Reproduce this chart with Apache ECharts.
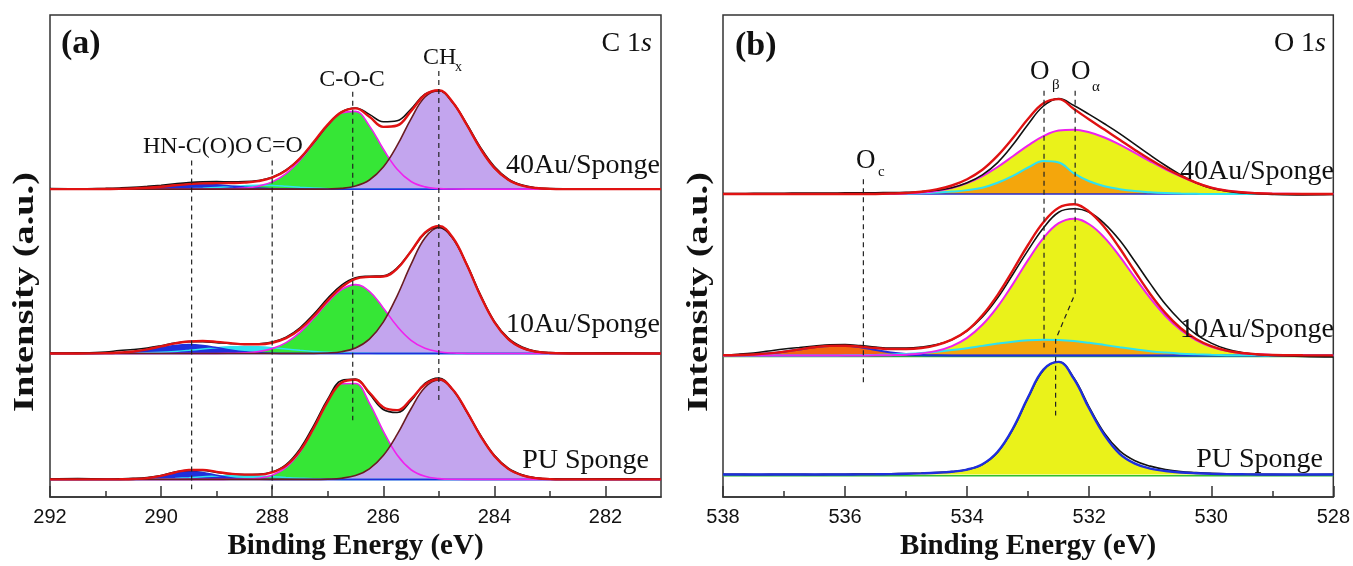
<!DOCTYPE html>
<html><head><meta charset="utf-8">
<script src="https://cdn.jsdelivr.net/npm/echarts@6/dist/echarts.min.js"></script>
<style>html,body{margin:0;padding:0;background:#fff}#c{width:1353px;height:566px}</style>
</head><body><div id="c"></div>
<script>
// ---------------- DATA: panel (a) C 1s ----------------
const energyC = [292, 291.5, 291, 290.75, 290.5, 290.25, 290, 289.75, 289.5, 289.25, 289, 288.75, 288.5, 288.25, 288, 287.75, 287.5, 287.25, 287, 286.75, 286.5, 286.25, 286, 285.75, 285.5, 285.25, 285, 284.75, 284.5, 284.25, 284, 283.75, 283.5, 283.25, 283, 282.5, 282, 281];
const ticksMajorC = [282, 284, 286, 288, 290, 292];
const ticksMinorC = [283, 285, 287, 289, 291];

// 40Au/Sponge
const c40_COC = [0,0,0,0,0,0,0,0,0,0, 0.1,0.3,1.0,3.0,7.4,15.8,29.4,47.0,64.9,77.3, 79.0,64.3,40.8,20.2,7.8,2.3,0.5,0.1,0,0, 0,0,0,0,0,0,0,0];
const c40_CHx = [0,0,0,0,0,0,0,0,0,0, 0,0,0,0,0,0,0,0,0.2,0.8, 3.1,9.3,22.5,44.5,71.5,93.6,100,88.2,65.7,41.1, 21.6,9.6,3.6,1.1,0.3,0,0,0];
const c40_HN  = [0,0,0.1,0.3,0.7,1.4,2.5,3.8,4.7,5.0, 4.4,3.3,2.1,1.1,0.5,0.2,0,0,0,0, 0,0,0,0,0,0,0,0,0,0, 0,0,0,0,0,0,0,0];
const c40_CO  = [0,0,0,0,0,0,0,0.1,0.4,0.9, 1.6,2.6,3.5,4.0,3.8,3.0,2.0,1.1,0.5,0.2, 0,0,0,0,0,0,0,0,0,0, 0,0,0,0,0,0,0,0];
const c40_fit = [0,0,0.2,0.3,0.7,1.4,2.5,3.9,5.1,5.9, 6.1,6.2,6.6,8.1,11.7,19.0,31.4,48.1,65.6,78.3, 82.1,73.6,63.3,64.7,79.3,95.9,100.5,88.3,65.7,41.1, 21.6,9.6,3.6,1.1,0.3,0,0,0];
const c40_raw = [0.5,0.3,0.8,1.2,1.8,2.8,4.0,5.4,6.6,7.4, 7.6,7.4,7.6,8.8,12.0,19.5,31.0,47.5,65.0,78.5, 82.5,76.0,68.5,69.5,81.5,96.5,100.0,88.0,66.5,42.5, 23.0,10.5,4.2,1.5,0.6,0.2,0.4,0];
// 10Au/Sponge
const c10_COC = [0,0,0,0,0,0,0,0,0,0, 0,0.2,0.6,1.9,4.9,11.0,21.4,36.0,52.1,65.0, 70.0,63.1,46.3,27.6,13.4,5.3,1.7,0.4,0.1,0, 0,0,0,0,0,0,0,0];
const c10_CHx = [0,0,0,0,0,0,0,0,0,0, 0,0,0,0,0,0,0,0,0.5,1.8, 5.6,14.6,31.9,58.6,90.5,117.4,128.0,117.4,90.5,58.6, 31.9,14.6,5.6,1.8,0.5,0,0,0];
const c10_HN  = [0,0,0.2,0.7,1.7,3.6,6.0,8.1,9.0,8.1, 6.0,3.6,1.7,0.7,0.2,0,0,0,0,0, 0,0,0,0,0,0,0,0,0,0, 0,0,0,0,0,0,0,0];
const c10_CO  = [0,0,0.1,0.2,0.3,0.6,1.2,2.1,3.2,4.5, 5.8,6.7,7.0,6.7,5.8,4.5,3.2,2.1,1.2,0.6, 0.3,0.1,0,0,0,0,0,0,0,0, 0,0,0,0,0,0,0,0];
const c10_fit = [0,0,0.3,0.9,2.0,4.2,7.2,10.2,12.2,12.6, 11.8,10.5,9.3,9.3,10.9,15.5,24.6,38.1,53.8,67.4, 75.9,77.8,78.2,86.2,103.9,122.7,129.7,117.8,90.6,58.6, 31.9,14.6,5.6,1.8,0.5,0,0,0];
const c10_raw = [0.3,0.6,1.5,3.0,4.0,5.5,7.8,10.5,12.0,12.0, 11.0,10.0,9.5,9.8,11.5,16.5,26.0,40.0,56.0,69.5, 77.0,78.5,79.0,87.0,104.0,122.0,128.5,117.0,91.0,59.5, 32.5,15.5,6.5,2.2,0.8,0.3,0.6,0];
// PU Sponge
const cPU_COC = [0,0,0,0,0,0,0,0,0,0, 0,0.1,0.3,1.2,4.3,12.1,27.8,51.9,78.8,97.2, 97.4,77.6,49.1,24.7,9.8,3.1,0.8,0.1,0,0, 0,0,0,0,0,0,0,0];
const cPU_CHx = [0,0,0,0,0,0,0,0,0,0, 0,0,0,0,0,0,0,0,0.3,1.2, 3.9,10.7,24.2,45.7,71.8,93.4,101.0,91.3,69.4,44.3, 23.8,10.7,4.1,1.3,0.3,0,0,0];
const cPU_HN  = [0,0,0,0,0.3,1.1,3.1,6.0,7.9,7.1, 4.2,1.7,0.5,0.1,0,0,0,0,0,0, 0,0,0,0,0,0,0,0,0,0, 0,0,0,0,0,0,0,0];
const cPU_CO  = [0,0,0,0,0,0.2,0.5,1.0,1.7,2.6, 3.4,3.9,4.0,3.5,2.8,1.9,1.2,0.6,0.3,0, 0,0,0,0,0,0,0,0,0,0, 0,0,0,0,0,0,0,0];
const cPU_fit = [0,0,0,0.1,0.4,1.3,3.6,7.0,9.6,9.7, 7.6,5.7,4.8,4.8,7.1,14.0,29.0,52.5,79.4,98.4, 101.3,88.3,73.3,70.4,81.6,96.5,101.8,91.4,69.4,44.3, 23.8,10.7,4.1,1.3,0.3,0,0,0];
const cPU_raw = [0.3,0.8,0.2,0.5,1.0,2.0,4.0,7.5,9.0,9.0, 7.0,5.5,5.0,5.2,7.5,15.0,31.0,55.0,81.5,100.5, 102.0,87.0,71.0,68.0,80.0,97.5,103.0,91.0,69.0,45.0, 24.5,11.5,4.8,1.6,0.5,0.3,0.6,0.2];

// reference (dashed) lines, panel (a): energy, top, bottom (intensity units)
const refEnergyC = [289.45, 288.0, 286.55, 285.0];
const refTopC = [342, 342, 412, 433];
const refBottomC = [8, 8, 78, 98];

// ---------------- DATA: panel (b) O 1s ----------------
const energyO = [538, 537.75, 537.5, 537.25, 537, 536.75, 536.5, 536.25, 536, 535.75, 535.5, 535.25, 535, 534.75, 534.5, 534.25, 534, 533.75, 533.5, 533.25, 533, 532.75, 532.5, 532.25, 532, 531.75, 531.5, 531.25, 531, 530.75, 530.5, 530.25, 530, 529.75, 529.5, 529.25, 529, 528.5, 528];
const ticksMajorO = [528, 530, 532, 534, 536, 538];
const ticksMinorO = [529, 531, 533, 535, 537];

const o40_Oa  = [0,0,0,0,0,0,0,0,0,0, 0.1,0.3,0.7,1.5,3.2,6.2,11.1,18.2,27.5,38.4, 49.5,58.9,64.5,65.4,62.8,57.5,50.2,41.9,33.3,25.2, 18.0,11.5,6.5,3.5,1.8,0.9,0.4,0.1,0];
const o40_Ob  = [0,0,0,0,0,0,0,0,0,0, 0,0.2,0.4,0.8,1.5,2.5,4.0,6.5,11.5,18.5, 27.0,33.5,32.0,21.0,13.0,8.0,5.0,3.0,1.8,1.0, 0.5,0.2,0,0,0,0,0,0,0];
const o40_fit = [0,0,0,0,0,0,0,0,0,0, 0.1,0.5,1.1,2.3,4.7,8.7,15.1,24.7,39.0,56.9, 76.5,92.4,96.5,86.4,75.8,65.5,55.2,44.9,35.1,26.2, 18.5,11.7,6.5,3.5,1.8,0.9,0.4,0.1,0];
const o40_raw = [0.5,0.6,0.7,0.8,0.9,1.0,1.0,1.1,1.2,1.3, 1.4,1.5,1.8,2.4,3.8,6.5,11.5,19.5,32.0,50.0, 71.0,89.5,97.0,90.0,81.0,71.5,61.5,50.5,39.5,29.0, 19.5,11.5,6.0,3.0,1.2,0.4,-0.3,-0.8,-0.5];

const o10_Oa  = [0,0,0,0,0,0,0,0,0,0, 0.1,0.3,0.8,2.0,4.6,9.5,17.9,31.1,49.6,72.5, 97.1,119.3,134.4,139.0,133.3,119.7,100.6,79.1,58.2,40.1, 25.8,15.6,8.8,4.6,2.3,1.1,0.5,0.1,0];
const o10_Ob  = [0,0,0,0,0,0,0,0,0.1,0.3, 0.5,0.8,1.5,2.4,3.7,5.4,7.4,9.7,12.0,14.0, 15.4,16.0,15.7,14.6,12.8,10.6,8.3,6.2,4.3,2.9, 1.8,1.1,0.6,0.3,0.2,0.1,0,0,0];
const o10_Oc  = [0.1,0.4,1.0,2.1,3.8,6.1,8.3,9.7,9.8,8.2, 5.5,3.0,1.4,0.5,0.1,0,0,0,0,0, 0,0,0,0,0,0,0,0,0,0, 0,0,0,0,0,0,0,0,0];
const o10_fit = [0.1,0.4,1.0,2.1,3.8,6.1,8.3,9.7,9.9,8.8, 7.5,6.5,6.5,7.5,10.5,16.0,25.3,40.8,61.6,86.5, 112.5,135.3,150.1,153.6,146.1,130.3,108.9,85.3,62.5,43.0, 27.6,16.7,9.4,4.9,2.5,1.2,0.5,0.1,0];
const o10_raw = [0.3,1.2,2.5,4.5,6.5,8.0,9.5,10.8,11.0,10.0, 8.5,7.5,7.5,8.5,11.0,16.0,25.0,39.0,58.5,82.5, 107.0,129.5,145.5,149.0,145.5,134.0,117.0,95.5,73.0,52.0, 35.0,21.5,12.5,6.5,3.0,1.0,0.0,-1.0,-1.5];

const oPU_Oa  = [0,0,0,0,0,0,0,0,0,0.1, 0.2,0.4,0.7,1.1,1.7,2.8,5.0,10.4,23.1,46.7, 78.7,106.7,114.4,97.1,67.0,40.0,21.0,11.0,6.0,3.5, 2.0,1.2,0.7,0.4,0.2,0,0,0,0];
const oPU_raw = [0.3,0.2,0.0,0.1,0.3,0.2,0.0,0.2,0.3,0.4, 0.5,0.7,1.0,1.4,2.0,3.0,5.0,10.0,22.5,46.0, 78.0,106.0,114.5,98.0,68.5,42.0,24.0,14.0,8.5,5.0, 3.0,2.0,1.2,0.7,0.4,0.2,0.1,0.0,0.2];

// reference (dashed) lines, panel (b)
const refOc = [[535.7, 323], [535.7, 113]];
const refObeta = [[532.74, 413], [532.74, 152]];
const refOalpha = [[532.23, 413], [532.23, 207], [532.55, 160], [532.55, 83]];

// ---------------- LAYOUT (vertical stacking offsets, in intensity units) ----------------
const OFF_C = {s40: 313, s10: 146, pu: 18};
const OFF_O = {s40: 308, s10: 144, pu: 23};

const SERIF = '"Liberation Serif","Times New Roman",serif';
const SANS = '"Liberation Sans",Arial,sans-serif';

const chart = echarts.init(document.getElementById('c'));
const series = [];
function pts(xs, base, vals) { return xs.map((e, i) => [e, base + vals[i]]); }
function area(ax, ay, xs, base, vals, color, z) {
  series.push({type: 'line', xAxisIndex: ax, yAxisIndex: ay, data: pts(xs, base, vals), smooth: 0.4,
    symbol: 'none', silent: true, z: z, lineStyle: {width: 0, opacity: 0},
    areaStyle: {color: color, opacity: 1, origin: base}});
}
function line(ax, ay, xs, base, vals, color, width, z) {
  series.push({type: 'line', xAxisIndex: ax, yAxisIndex: ay, data: pts(xs, base, vals), smooth: 0.4,
    symbol: 'none', silent: true, z: z, lineStyle: {color: color, width: width}});
}
function flat(ax, ay, x0, x1, y, color, width, z) {
  series.push({type: 'line', xAxisIndex: ax, yAxisIndex: ay, data: [[x0, y], [x1, y]], symbol: 'none',
    silent: true, z: z, lineStyle: {color: color, width: width}});
}
function dashed(ax, ay, data) {
  series.push({type: 'line', xAxisIndex: ax, yAxisIndex: ay, data: data, symbol: 'none', silent: true,
    z: 8, lineStyle: {color: '#222', width: 1.2, type: [5, 4]}});
}

const COL = {green: '#36e636', magenta: '#ee22ee', purple: '#c3a5ee', maroon: '#6a1c22', blue: '#1f2fdc',
  cyan: '#2fe2ef', red: '#e01212', black: '#111111', yellow: '#eaf21a', orange: '#f4a60c', orangeRed: '#f2650f',
  base: '#2a2ac8', green2: '#2fbf2f'};

// panel (a)
[[OFF_C.s40, c40_COC, c40_CHx, c40_HN, c40_CO, c40_fit, c40_raw],
 [OFF_C.s10, c10_COC, c10_CHx, c10_HN, c10_CO, c10_fit, c10_raw],
 [OFF_C.pu, cPU_COC, cPU_CHx, cPU_HN, cPU_CO, cPU_fit, cPU_raw]].forEach(s => {
  const [b, coc, chx, hn, co, fit, raw] = s;
  area(0, 0, energyC, b, co, COL.cyan, 2);
  area(0, 0, energyC, b, hn, COL.blue, 2);
  area(0, 0, energyC, b, coc, COL.green, 3);
  area(0, 0, energyC, b, chx, COL.purple, 3);
  flat(0, 0, 292, 281, b, COL.base, 1.5, 4);
  line(0, 0, energyC, b, co, COL.cyan, 1.5, 4);
  line(0, 0, energyC, b, hn, COL.blue, 1.5, 4);
  line(0, 0, energyC, b, coc, COL.magenta, 1.6, 5);
  line(0, 0, energyC, b, chx, COL.maroon, 1.6, 5);
  line(0, 0, energyC, b, raw, COL.black, 1.6, 6);
  line(0, 0, energyC, b, fit, COL.red, 2.4, 7);
});
refEnergyC.forEach((e, i) => dashed(0, 0, [[e, refTopC[i]], [e, refBottomC[i]]]));

// panel (b)
area(2, 1, energyO, OFF_O.s40, o40_Oa, COL.yellow, 2);
area(2, 1, energyO, OFF_O.s40, o40_Ob, COL.orange, 3);
flat(2, 1, 538, 528, OFF_O.s40, COL.base, 1.5, 4);
line(2, 1, energyO, OFF_O.s40, o40_Ob, COL.cyan, 2, 5);
line(2, 1, energyO, OFF_O.s40, o40_Oa, COL.magenta, 2, 5);
line(2, 1, energyO, OFF_O.s40, o40_raw, COL.black, 1.6, 6);
line(2, 1, energyO, OFF_O.s40, o40_fit, COL.red, 2.4, 7);

area(2, 1, energyO, OFF_O.s10, o10_Oa, COL.yellow, 2);
area(2, 1, energyO, OFF_O.s10, o10_Ob, COL.orange, 3);
area(2, 1, energyO, OFF_O.s10, o10_Oc, COL.orangeRed, 3);
flat(2, 1, 538, 528, OFF_O.s10 - 1, COL.green2, 1.5, 4);
flat(2, 1, 538, 528, OFF_O.s10, COL.base, 1.5, 4);
line(2, 1, energyO, OFF_O.s10, o10_Oc, COL.blue, 2, 5);
line(2, 1, energyO, OFF_O.s10, o10_Ob, COL.cyan, 2, 5);
line(2, 1, energyO, OFF_O.s10, o10_Oa, COL.magenta, 2, 5);
line(2, 1, energyO, OFF_O.s10, o10_raw, COL.black, 1.6, 6);
line(2, 1, energyO, OFF_O.s10, o10_fit, COL.red, 2.4, 7);

area(2, 1, energyO, OFF_O.pu, oPU_Oa, COL.yellow, 2);
flat(2, 1, 538, 528, OFF_O.pu - 1.2, COL.green2, 1.5, 4);
line(2, 1, energyO, OFF_O.pu, oPU_raw, COL.black, 1.6, 6);
line(2, 1, energyO, OFF_O.pu, oPU_Oa, COL.blue, 2.4, 7);

dashed(2, 1, refOc);
dashed(2, 1, refObeta);
dashed(2, 1, refOalpha);

function majorAxis(grid, min, max, ticks) {
  return {gridIndex: grid, type: 'value', min: min, max: max, inverse: true,
    axisLine: {show: true, lineStyle: {color: '#333', width: 1.5}},
    axisTick: {show: true, inside: true, length: 11, customValues: ticks, lineStyle: {color: '#333', width: 1.5}},
    axisLabel: {show: true, customValues: ticks, fontSize: 20, fontFamily: SANS, color: '#111', margin: 10},
    splitLine: {show: false},
    name: 'Binding Energy (eV)', nameLocation: 'middle', nameGap: 21,
    nameTextStyle: {fontFamily: SERIF, fontWeight: 'bold', fontSize: 29, color: '#111'}};
}
function minorAxis(grid, min, max, ticks) {
  return {gridIndex: grid, type: 'value', min: min, max: max, inverse: true, position: 'bottom',
    axisLine: {show: false},
    axisTick: {show: true, inside: true, length: 6, customValues: ticks, lineStyle: {color: '#333', width: 1.5}},
    axisLabel: {show: false}, splitLine: {show: false}};
}
function txt(x, y, text, size, opts) {
  opts = opts || {};
  return {type: 'text', x: x, y: y, rotation: opts.rot || 0, scaleX: opts.sx || 1, z: 20, silent: true,
    style: {text: text, fontSize: size, fontFamily: opts.family || SERIF, fontWeight: opts.weight || 'normal',
      fontStyle: opts.style || 'normal', fill: '#111', textAlign: opts.align || 'left', textVerticalAlign: 'middle',
      rich: opts.rich}};
}

const graphics = [
  txt(61, 44, '(a)', 34, {weight: 'bold'}),
  txt(652, 44, '{n|C 1}{i|s}', 28, {align: 'right', rich: {n: {fontSize: 28, fontFamily: SERIF}, i: {fontSize: 28, fontFamily: SERIF, fontStyle: 'italic'}}}),
  txt(423, 58, 'CH', 24),
  txt(455, 67, 'x', 14),
  txt(352, 80, 'C-O-C', 24, {align: 'center'}),
  txt(143, 147, 'HN-C(O)O', 24),
  txt(256, 146, 'C=O', 24),
  txt(660, 166, '40Au/Sponge', 28, {align: 'right'}),
  txt(660, 325, '10Au/Sponge', 28, {align: 'right'}),
  txt(649, 461, 'PU Sponge', 28, {align: 'right'}),
  txt(25, 292, 'Intensity (a.u.)', 30, {weight: 'bold', align: 'center', rot: Math.PI / 2, sx: 1.28}),

  txt(735, 46, '(b)', 34, {weight: 'bold'}),
  txt(1326, 44, '{n|O 1}{i|s}', 28, {align: 'right', rich: {n: {fontSize: 28, fontFamily: SERIF}, i: {fontSize: 28, fontFamily: SERIF, fontStyle: 'italic'}}}),
  txt(1030, 72, 'O', 27),
  txt(1052, 85, 'β', 15),
  txt(1071, 72, 'O', 27),
  txt(1092, 87, 'α', 15),
  txt(856, 161, 'O', 27),
  txt(878, 172, 'c', 15),
  txt(1334, 172, '40Au/Sponge', 28, {align: 'right'}),
  txt(1334, 330, '10Au/Sponge', 28, {align: 'right'}),
  txt(1323, 460, 'PU Sponge', 28, {align: 'right'}),
  txt(699, 292, 'Intensity (a.u.)', 30, {weight: 'bold', align: 'center', rot: Math.PI / 2, sx: 1.28})
];

chart.setOption({
  animation: false,
  backgroundColor: '#fff',
  grid: [
    {left: 50, top: 15, width: 611, height: 490, show: true, borderColor: '#333', borderWidth: 1.5, backgroundColor: 'transparent'},
    {left: 723, top: 15, width: 613, height: 490, show: true, borderColor: '#333', borderWidth: 1.5, backgroundColor: 'transparent'}
  ],
  xAxis: [
    majorAxis(0, 281, 292, ticksMajorC),
    minorAxis(0, 281, 292, ticksMinorC),
    majorAxis(1, 528, 538, ticksMajorO),
    minorAxis(1, 528, 538, ticksMinorO)
  ],
  yAxis: [
    {gridIndex: 0, type: 'value', min: 0, max: 490, show: false},
    {gridIndex: 1, type: 'value', min: 0, max: 490, show: false}
  ],
  series: series,
  graphic: graphics
});
</script></body></html>
